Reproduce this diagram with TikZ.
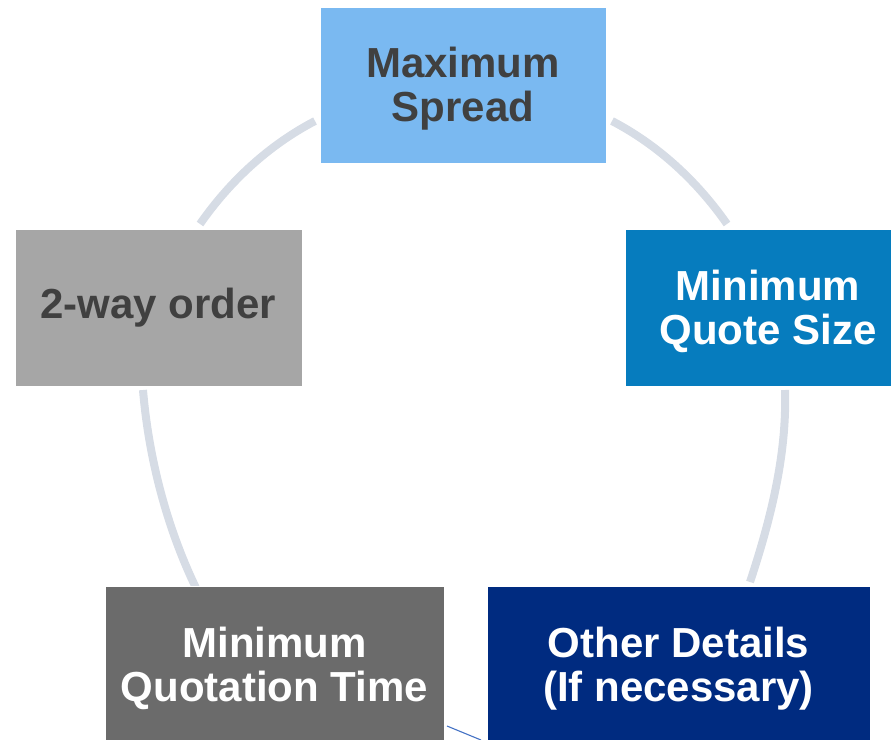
\documentclass[tikz,border=0pt]{standalone}
\usepackage{fontspec}
\setmainfont{Liberation Sans}
\definecolor{boxtop}{HTML}{7AB9F1}
\definecolor{boxright}{HTML}{067CBE}
\definecolor{boxbr}{HTML}{002B80}
\definecolor{boxbl}{HTML}{6B6B6B}
\definecolor{boxleft}{HTML}{A6A6A6}
\definecolor{darktext}{HTML}{404040}
\definecolor{arcgray}{HTML}{D6DCE5}
\definecolor{thinblue}{HTML}{4472C4}
\newcommand{\lowstrut}{\rule{0pt}{38pt}}
\tikzset{
  stagebox/.style={rectangle, inner sep=0pt, draw=white, line width=0.8pt,
    align=center, font=\fontsize{42}{44}\selectfont\bfseries,
    minimum height=157pt},
  arcline/.style={draw=arcgray, line width=8pt},
  thinline/.style={draw=thinblue, line width=1.1pt}
}
\begin{document}
\begin{tikzpicture}[x=1pt,y=-1pt]
\useasboundingbox (0,0) rectangle (891,739);
\clip (0,0) rectangle (891,739);
% arcs of the cycle
\coordinate (a1s) at (200,224);
\coordinate (a1e) at (315,121);
\coordinate (a2s) at (612,121);
\coordinate (a2e) at (727,224);
\coordinate (a3s) at (785,390);
\coordinate (a3e) at (750,582);
\coordinate (a4s) at (143,390);
\coordinate (a4e) at (196,588);
\draw[arcline] (a1s) .. controls (230,181) and (269,145) .. (a1e);
\draw[arcline] (a2s) .. controls (658,145) and (697,181) .. (a2e);
\draw[arcline] (a3s) .. controls (787,455) and (770.5,520) .. (a3e);
\draw[arcline] (a4s) .. controls (148.7,457.8) and (166.5,526.7) .. (a4e);
% boxes
\node[stagebox, fill=boxtop, text=darktext, minimum width=286pt, minimum height=156pt] (ms) at (463,85) {\lowstrut Maximum\\Spread};
\node[stagebox, fill=boxright, text=white, minimum width=286pt] (mqs) at (768,307.5) {\lowstrut Minimum\\Quote Size};
\node[stagebox, fill=boxbr, text=white, minimum width=383pt] (od) at (678.5,664.5) {\lowstrut Other Details\\(If necessary)};
\node[stagebox, fill=boxbl, text=white, minimum width=339pt] (mqt) at (274.5,664.5) {\lowstrut Minimum\\Quotation Time};
\node[stagebox, fill=boxleft, text=darktext, minimum width=287pt] (two) at (158.5,307.5) {2-way order};
% thin line at the bottom
\coordinate (t1) at (447,726);
\coordinate (t2) at (481,740);
\draw[thinline] (t1) -- (t2);
\end{tikzpicture}
\end{document}
